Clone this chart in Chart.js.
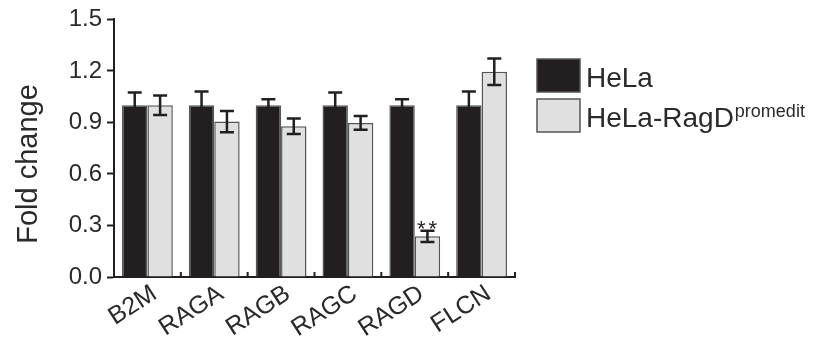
<!DOCTYPE html>
<html>
<head>
<meta charset="utf-8">
<script src="https://cdn.jsdelivr.net/npm/chart.js@4.4.1/dist/chart.umd.min.js"></script>
<style>
  html, body { margin: 0; padding: 0; background: #fff; }
  #wrap { width: 815px; height: 340px; }
</style>
</head>
<body>
<div id="wrap"><canvas id="chart"></canvas></div>
<script>
var genes = ['B2M', 'RAGA', 'RAGB', 'RAGC', 'RAGD', 'FLCN'];
var helaMean = [1.0, 1.0, 1.0, 1.0, 1.0, 1.0];
var helaErr = [0.075, 0.08, 0.035, 0.075, 0.035, 0.08];
var editMean = [1.0, 0.905, 0.878, 0.897, 0.237, 1.195];
var editErr = [0.057, 0.062, 0.045, 0.04, 0.033, 0.077];
var significance = ['', '', '', '', '**', ''];
var yTicks = [0, 0.3, 0.6, 0.9, 1.2, 1.5];
var seriesNames = ['HeLa', 'HeLa-RagD'];
var seriesSup = ['', 'promedit'];
var yTitle = 'Fold change';

var INK = '#231f20';
var FONT = '"Liberation Sans", Arial, Helvetica, sans-serif';

// error bars + significance stars
var errorBars = {
    id: 'errorBars',
    afterDatasetsDraw: function(chart) {
        var ctx = chart.ctx, y = chart.scales.y;
        ctx.save();
        ctx.strokeStyle = INK;
        ctx.lineWidth = 2.5;
        chart.data.datasets.forEach(function(ds, d) {
            var meta = chart.getDatasetMeta(d);
            meta.data.forEach(function(bar, i) {
                var top = y.getPixelForValue(ds.data[i] + ds.errors[i]);
                var bot = y.getPixelForValue(ds.data[i] - ds.errors[i]);
                var half = 7;
                ctx.beginPath();
                ctx.moveTo(bar.x, top); ctx.lineTo(bar.x, bot);
                ctx.moveTo(bar.x - half, top); ctx.lineTo(bar.x + half, top);
                ctx.moveTo(bar.x - half, bot); ctx.lineTo(bar.x + half, bot);
                ctx.stroke();
                if (d === 1 && significance[i]) {
                    ctx.fillStyle = INK;
                    ctx.font = '22px ' + FONT;
                    ctx.textAlign = 'center';
                    ctx.textBaseline = 'alphabetic';
                    if ('letterSpacing' in ctx) ctx.letterSpacing = '3px';
                    ctx.fillText(significance[i], bar.x + 1, top + 5);
                }
            });
        });
        ctx.restore();
    }
};

// small upward ticks between categories, y title, legend with superscript
var decorations = {
    id: 'decorations',
    afterDraw: function(chart) {
        var ctx = chart.ctx, x = chart.scales.x, area = chart.chartArea;
        ctx.save();
        ctx.strokeStyle = INK;
        ctx.lineWidth = 2;
        ctx.beginPath();
        for (var i = 1; i <= genes.length; i++) {
            var px = i < genes.length
                ? (x.getPixelForValue(i - 1) + x.getPixelForValue(i)) / 2
                : area.right;
            ctx.moveTo(px, area.bottom);
            ctx.lineTo(px, area.bottom - 5);
        }
        ctx.stroke();

        ctx.fillStyle = '#2a2a2a';
        ctx.font = '29px ' + FONT;
        ctx.textAlign = 'center';
        ctx.textBaseline = 'middle';
        ctx.translate(29, 164);
        ctx.rotate(-Math.PI / 2);
        ctx.fillText(yTitle, 0, 0);
        ctx.restore();

        ctx.save();
        var lx = 537, ly = 59, boxW = 43, boxH = 33, rowH = 40;
        chart.data.datasets.forEach(function(ds, d) {
            var top = ly + d * rowH;
            ctx.fillStyle = ds.backgroundColor;
            ctx.fillRect(lx, top, boxW, boxH);
            ctx.strokeStyle = '#555';
            ctx.lineWidth = 1.5;
            ctx.strokeRect(lx, top, boxW, boxH);
            ctx.fillStyle = '#2a2a2a';
            ctx.textAlign = 'left';
            ctx.textBaseline = 'alphabetic';
            ctx.font = '28px ' + FONT;
            var base = top + 28;
            ctx.fillText(ds.label, lx + boxW + 6, base);
            if (seriesSup[d]) {
                var w = ctx.measureText(ds.label).width;
                ctx.font = '18px ' + FONT;
                ctx.fillText(seriesSup[d], lx + boxW + 6 + w + 1, base - 10);
            }
        });
        ctx.restore();
    }
};

var chart = new Chart(document.getElementById('chart'), {
    type: 'bar',
    data: {
        labels: genes,
        datasets: [
            {
                label: seriesNames[0],
                data: helaMean,
                errors: helaErr,
                backgroundColor: INK,
                borderColor: '#555',
                borderWidth: 1.5
            },
            {
                label: seriesNames[1],
                data: editMean,
                errors: editErr,
                backgroundColor: '#e0e0e0',
                borderColor: '#555',
                borderWidth: 1.5
            }
        ]
    },
    options: {
        responsive: true,
        maintainAspectRatio: false,
        animation: false,
        layout: { padding: { top: 16, right: 300, left: 0, bottom: 0 } },
        plugins: { legend: { display: false }, tooltip: { enabled: false } },
        datasets: { bar: { categoryPercentage: 0.76, barPercentage: 1.0 } },
        scales: {
            x: {
                grid: { display: false },
                border: { display: true, color: INK, width: 2 },
                ticks: {
                    color: '#2a2a2a',
                    font: { family: FONT, size: 25 },
                    minRotation: 33, maxRotation: 33,
                    labelOffset: 7,
                    padding: -6
                },
                afterFit: function(scale) { scale.height = 63; }
            },
            y: {
                min: 0, max: 1.5,
                grid: { drawOnChartArea: false, tickLength: 7, tickColor: INK, tickWidth: 2 },
                border: { display: true, color: INK, width: 2 },
                ticks: {
                    color: '#2a2a2a',
                    font: { family: FONT, size: 24 },
                    padding: 5,
                    callback: function(v) { return Number(v).toFixed(1); }
                },
                afterBuildTicks: function(scale) {
                    scale.ticks = yTicks.map(function(v) { return { value: v }; });
                },
                afterFit: function(scale) { scale.width = 114; }
            }
        }
    },
    plugins: [errorBars, decorations]
});
</script>
</body>
</html>
